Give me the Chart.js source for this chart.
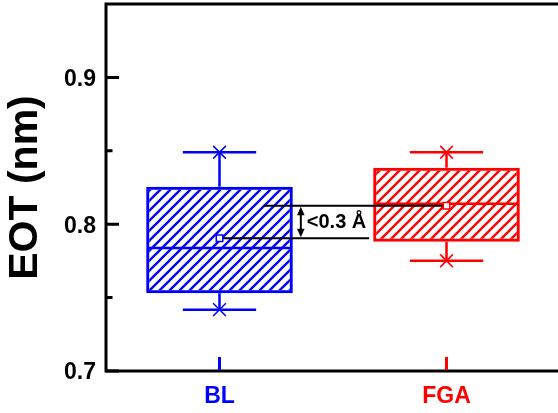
<!DOCTYPE html>
<html>
<head>
<meta charset="utf-8">
<script src="https://cdn.jsdelivr.net/npm/chart.js@4/dist/chart.umd.min.js"></script>
<style>
  html, body { margin: 0; padding: 0; background: #fff; overflow: hidden; }
  #wrap { width: 562px; height: 413px; }
</style>
</head>
<body>
<div id="wrap"><canvas id="myChart"></canvas></div>
<script>
// box plot values (EOT, nm)
const categories = ['BL', 'FGA'];
const colors = ['#0000ff', '#ff0000'];
const q1 = [0.753, 0.788];
const q3 = [0.8255, 0.8385];
const median = [0.7838, 0.814];
const mean = [0.7905, 0.8125];
const whiskerLow = [0.7418, 0.7751];
const whiskerHigh = [0.849, 0.849];
const yTicks = [0.7, 0.8, 0.9];
const yMinorTicks = [0.75, 0.85];
const noteText = '<0.3 Å';

const FONT = "'Liberation Sans', Arial, sans-serif";

// diagonal hatch fill for the boxes
function hatch(color) {
    const c = document.createElement('canvas');
    c.width = 10; c.height = 10;
    const g = c.getContext('2d');
    g.strokeStyle = color;
    g.lineWidth = 2.3;
    g.beginPath();
    g.moveTo(0, 10); g.lineTo(10, 0);
    g.moveTo(-5, 5); g.lineTo(5, -5);
    g.moveTo(5, 15); g.lineTo(15, 5);
    g.stroke();
    return g.createPattern(c, 'repeat');
}

// whiskers, median lines and the "<0.3 Å" note, drawn right after the boxes
const boxExtras = {
    id: 'boxExtras',
    afterDatasetDraw(chart, args) {
        if (args.index !== 0) return;
        const ctx = chart.ctx;
        const y = chart.scales.y;
        const bars = args.meta.data;
        ctx.save();
        bars.forEach((bar, i) => {
            const half = bar.width / 2;
            const cap = half / 2;
            const pHi = y.getPixelForValue(whiskerHigh[i]);
            const pLo = y.getPixelForValue(whiskerLow[i]);
            ctx.strokeStyle = colors[i];
            ctx.lineWidth = 2.5;
            ctx.beginPath();
            ctx.moveTo(bar.x, y.getPixelForValue(q3[i])); ctx.lineTo(bar.x, pHi);
            ctx.moveTo(bar.x, y.getPixelForValue(q1[i])); ctx.lineTo(bar.x, pLo);
            ctx.moveTo(bar.x - cap, pHi); ctx.lineTo(bar.x + cap, pHi);
            ctx.moveTo(bar.x - cap, pLo); ctx.lineTo(bar.x + cap, pLo);
            const pMed = y.getPixelForValue(median[i]);
            ctx.moveTo(bar.x - half + 2, pMed); ctx.lineTo(bar.x + half - 2, pMed);
            ctx.stroke();
        });

        const bl = bars[0], fga = bars[1];
        const yTop = y.getPixelForValue(mean[1]);
        const yBot = y.getPixelForValue(mean[0]);
        ctx.strokeStyle = '#000';
        ctx.fillStyle = '#000';
        ctx.lineWidth = 2;
        ctx.beginPath();
        ctx.moveTo(bl.x + 44, yTop); ctx.lineTo(fga.x, yTop);
        ctx.moveTo(bl.x, yBot); ctx.lineTo(fga.x - fga.width / 2 - 4, yBot);
        ctx.stroke();

        // double arrow
        const ax = bl.x + bl.width / 2 + 8;
        ctx.beginPath();
        ctx.moveTo(ax, yTop + 8); ctx.lineTo(ax, yBot - 8);
        ctx.stroke();
        ctx.beginPath();
        ctx.moveTo(ax, yTop + 1); ctx.lineTo(ax - 3.8, yTop + 9.5); ctx.lineTo(ax + 3.8, yTop + 9.5);
        ctx.closePath();
        ctx.moveTo(ax, yBot - 1); ctx.lineTo(ax - 3.8, yBot - 9.5); ctx.lineTo(ax + 3.8, yBot - 9.5);
        ctx.closePath();
        ctx.fill();

        ctx.font = 'bold 20px ' + FONT;
        ctx.textAlign = 'left';
        ctx.textBaseline = 'middle';
        ctx.fillText(noteText, ax + 6, (yTop + yBot) / 2 + 0.5);
        ctx.restore();
    }
};

// frame and inward tick marks
const frame = {
    id: 'frame',
    afterDraw(chart) {
        const ctx = chart.ctx;
        const a = chart.chartArea;
        const x = chart.scales.x, y = chart.scales.y;
        ctx.save();
        ctx.lineWidth = 3;
        ctx.strokeStyle = '#000';
        ctx.lineCap = 'square';
        ctx.beginPath();
        ctx.moveTo(a.right + 2, a.top); ctx.lineTo(a.left, a.top);
        ctx.lineTo(a.left, a.bottom); ctx.lineTo(a.right + 2, a.bottom);
        ctx.stroke();
        ctx.lineCap = 'butt';
        ctx.beginPath();
        yTicks.forEach(v => {
            const p = y.getPixelForValue(v);
            ctx.moveTo(a.left, p); ctx.lineTo(a.left + 13, p);
        });
        yMinorTicks.forEach(v => {
            const p = y.getPixelForValue(v);
            ctx.moveTo(a.left, p); ctx.lineTo(a.left + 6.5, p);
        });
        ctx.stroke();
        categories.forEach((c, i) => {
            const p = x.getPixelForValue(i);
            ctx.strokeStyle = colors[i];
            ctx.beginPath();
            ctx.moveTo(p, a.bottom - 1); ctx.lineTo(p, a.bottom - 14);
            ctx.stroke();
        });
        ctx.restore();
    }
};

const chartData = {
    type: 'bar',
    data: {
        labels: categories,
        datasets: [{
            data: categories.map((c, i) => [q1[i], q3[i]]),
            backgroundColor: colors.map(hatch),
            borderColor: colors,
            borderWidth: 3,
            borderSkipped: false,
            barPercentage: 0.646,
            categoryPercentage: 1,
            order: 3
        }, {
            type: 'line',
            data: whiskerHigh,
            showLine: false,
            pointStyle: 'crossRot',
            pointRadius: 9,
            pointBorderWidth: 1.5,
            pointBorderColor: colors,
            order: 1
        }, {
            type: 'line',
            data: whiskerLow,
            showLine: false,
            pointStyle: 'crossRot',
            pointRadius: 9,
            pointBorderWidth: 1.5,
            pointBorderColor: colors,
            order: 1
        }, {
            type: 'line',
            data: mean,
            showLine: false,
            pointStyle: 'rect',
            pointRadius: 4.6,
            pointBorderWidth: 1.5,
            pointBorderColor: colors,
            pointBackgroundColor: '#fff',
            order: 1
        }]
    },
    options: {
        responsive: true,
        maintainAspectRatio: false,
        animation: false,
        layout: { autoPadding: false, padding: { left: 0, right: 2, top: 4, bottom: 0 } },
        plugins: {
            legend: { display: false },
            tooltip: { enabled: false }
        },
        scales: {
            x: {
                type: 'category',
                offset: true,
                grid: { display: false, drawTicks: false },
                border: { display: false },
                ticks: {
                    padding: 12,
                    color: ctx => colors[ctx.index],
                    font: { family: FONT, size: 23, weight: 'bold' }
                },
                afterFit: s => { s.height = 42; s.paddingLeft = 0; s.paddingRight = 0; }
            },
            y: {
                type: 'linear',
                min: 0.7,
                max: 0.95,
                grid: { display: false, drawTicks: false },
                border: { display: false },
                afterBuildTicks: s => { s.ticks = yTicks.map(v => ({ value: v })); },
                ticks: {
                    padding: 10,
                    labelOffset: 2,
                    color: '#000',
                    callback: v => v.toFixed(1),
                    font: { family: FONT, size: 23, weight: 'bold' }
                },
                title: {
                    display: true,
                    text: 'EOT (nm)',
                    color: '#000',
                    padding: { top: 1, bottom: 0 },
                    font: { family: FONT, size: 41, weight: 'bold' }
                },
                afterFit: s => { s.width = 106; s.paddingTop = 0; s.paddingBottom = 0; }
            }
        }
    },
    plugins: [boxExtras, frame]
};

const myChart = new Chart(document.getElementById('myChart'), chartData);
</script>
</body>
</html>
